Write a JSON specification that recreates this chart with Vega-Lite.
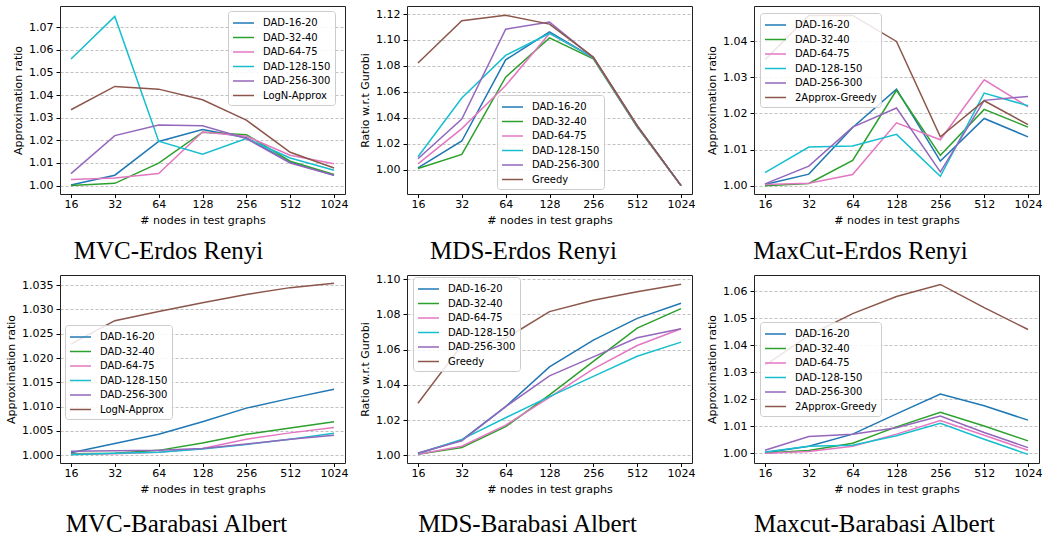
{
  "$schema": "https://vega.github.io/schema/vega-lite/v6.json",
  "background": "white",
  "padding": 5,
  "spacing": {"row": 8, "column": 10},
  "config": {
    "font": "DejaVu Sans",
    "view": {"stroke": "#222", "strokeWidth": 1},
    "axis": {"labelFont": "DejaVu Sans", "labelFontSize": 11, "labelColor": "#000", "titleFont": "DejaVu Sans", "titleFontSize": 11, "titleFontWeight": "normal", "titleColor": "#000", "tickColor": "#000", "domain": false, "tickSize": 4, "labelPadding": 3, "titlePadding": 5},
    "axisY": {"grid": true, "gridDash": [3, 2], "gridColor": "#b0b0b0", "gridWidth": 0.8},
    "axisX": {"grid": false, "tickSize": 3.5, "labelPadding": 1},
    "legend": {"orient": "none", "labelFont": "DejaVu Sans", "labelFontSize": 10, "labelColor": "#000", "symbolType": "M-1,0H2", "symbolSize": 196, "symbolStrokeWidth": 2, "fillColor": "rgba(255,255,255,0.85)", "strokeColor": "#cccccc", "cornerRadius": 3, "padding": 4, "rowPadding": 1.5, "labelOffset": 15},
    "title": {"orient": "bottom", "font": "Liberation Serif", "fontSize": 25, "fontWeight": "normal", "color": "#000", "anchor": "middle", "offset": 13},
    "line": {"strokeWidth": 1.5, "clip": true}
  },
  "data": {"values": [
    {"panel": "MVC-ER", "series": "DAD-16-20", "n": 16, "ratio": 1.0003},
    {"panel": "MVC-ER", "series": "DAD-16-20", "n": 32, "ratio": 1.0046},
    {"panel": "MVC-ER", "series": "DAD-16-20", "n": 64, "ratio": 1.0195},
    {"panel": "MVC-ER", "series": "DAD-16-20", "n": 128, "ratio": 1.0248},
    {"panel": "MVC-ER", "series": "DAD-16-20", "n": 256, "ratio": 1.0211},
    {"panel": "MVC-ER", "series": "DAD-16-20", "n": 512, "ratio": 1.0103},
    {"panel": "MVC-ER", "series": "DAD-16-20", "n": 1024, "ratio": 1.0046},
    {"panel": "MVC-ER", "series": "DAD-32-40", "n": 16, "ratio": 1.0000},
    {"panel": "MVC-ER", "series": "DAD-32-40", "n": 32, "ratio": 1.0010},
    {"panel": "MVC-ER", "series": "DAD-32-40", "n": 64, "ratio": 1.0099},
    {"panel": "MVC-ER", "series": "DAD-32-40", "n": 128, "ratio": 1.0236},
    {"panel": "MVC-ER", "series": "DAD-32-40", "n": 256, "ratio": 1.0225},
    {"panel": "MVC-ER", "series": "DAD-32-40", "n": 512, "ratio": 1.0108},
    {"panel": "MVC-ER", "series": "DAD-32-40", "n": 1024, "ratio": 1.0049},
    {"panel": "MVC-ER", "series": "DAD-64-75", "n": 16, "ratio": 1.0027},
    {"panel": "MVC-ER", "series": "DAD-64-75", "n": 32, "ratio": 1.0034},
    {"panel": "MVC-ER", "series": "DAD-64-75", "n": 64, "ratio": 1.0053},
    {"panel": "MVC-ER", "series": "DAD-64-75", "n": 128, "ratio": 1.0237},
    {"panel": "MVC-ER", "series": "DAD-64-75", "n": 256, "ratio": 1.0218},
    {"panel": "MVC-ER", "series": "DAD-64-75", "n": 512, "ratio": 1.0134},
    {"panel": "MVC-ER", "series": "DAD-64-75", "n": 1024, "ratio": 1.0097},
    {"panel": "MVC-ER", "series": "DAD-128-150", "n": 16, "ratio": 1.0559},
    {"panel": "MVC-ER", "series": "DAD-128-150", "n": 32, "ratio": 1.0747},
    {"panel": "MVC-ER", "series": "DAD-128-150", "n": 64, "ratio": 1.0196},
    {"panel": "MVC-ER", "series": "DAD-128-150", "n": 128, "ratio": 1.0139},
    {"panel": "MVC-ER", "series": "DAD-128-150", "n": 256, "ratio": 1.0208},
    {"panel": "MVC-ER", "series": "DAD-128-150", "n": 512, "ratio": 1.0122},
    {"panel": "MVC-ER", "series": "DAD-128-150", "n": 1024, "ratio": 1.0068},
    {"panel": "MVC-ER", "series": "DAD-256-300", "n": 16, "ratio": 1.0053},
    {"panel": "MVC-ER", "series": "DAD-256-300", "n": 32, "ratio": 1.0221},
    {"panel": "MVC-ER", "series": "DAD-256-300", "n": 64, "ratio": 1.0268},
    {"panel": "MVC-ER", "series": "DAD-256-300", "n": 128, "ratio": 1.0264},
    {"panel": "MVC-ER", "series": "DAD-256-300", "n": 256, "ratio": 1.0208},
    {"panel": "MVC-ER", "series": "DAD-256-300", "n": 512, "ratio": 1.0100},
    {"panel": "MVC-ER", "series": "DAD-256-300", "n": 1024, "ratio": 1.0046},
    {"panel": "MVC-ER", "series": "LogN-Approx", "n": 16, "ratio": 1.0335},
    {"panel": "MVC-ER", "series": "LogN-Approx", "n": 32, "ratio": 1.0438},
    {"panel": "MVC-ER", "series": "LogN-Approx", "n": 64, "ratio": 1.0426},
    {"panel": "MVC-ER", "series": "LogN-Approx", "n": 128, "ratio": 1.0379},
    {"panel": "MVC-ER", "series": "LogN-Approx", "n": 256, "ratio": 1.0289},
    {"panel": "MVC-ER", "series": "LogN-Approx", "n": 512, "ratio": 1.0147},
    {"panel": "MVC-ER", "series": "LogN-Approx", "n": 1024, "ratio": 1.0078},

    {"panel": "MDS-ER", "series": "DAD-16-20", "n": 16, "ratio": 1.0013},
    {"panel": "MDS-ER", "series": "DAD-16-20", "n": 32, "ratio": 1.0220},
    {"panel": "MDS-ER", "series": "DAD-16-20", "n": 64, "ratio": 1.0847},
    {"panel": "MDS-ER", "series": "DAD-16-20", "n": 128, "ratio": 1.1063},
    {"panel": "MDS-ER", "series": "DAD-16-20", "n": 256, "ratio": 1.0863},
    {"panel": "MDS-ER", "series": "DAD-16-20", "n": 512, "ratio": 1.0335},
    {"panel": "MDS-ER", "series": "DAD-16-20", "n": 1024, "ratio": 0.9876},
    {"panel": "MDS-ER", "series": "DAD-32-40", "n": 16, "ratio": 1.0008},
    {"panel": "MDS-ER", "series": "DAD-32-40", "n": 32, "ratio": 1.0117},
    {"panel": "MDS-ER", "series": "DAD-32-40", "n": 64, "ratio": 1.0713},
    {"panel": "MDS-ER", "series": "DAD-32-40", "n": 128, "ratio": 1.1016},
    {"panel": "MDS-ER", "series": "DAD-32-40", "n": 256, "ratio": 1.0855},
    {"panel": "MDS-ER", "series": "DAD-32-40", "n": 512, "ratio": 1.0328},
    {"panel": "MDS-ER", "series": "DAD-32-40", "n": 1024, "ratio": 0.9876},
    {"panel": "MDS-ER", "series": "DAD-64-75", "n": 16, "ratio": 1.0044},
    {"panel": "MDS-ER", "series": "DAD-64-75", "n": 32, "ratio": 1.0316},
    {"panel": "MDS-ER", "series": "DAD-64-75", "n": 64, "ratio": 1.0648},
    {"panel": "MDS-ER", "series": "DAD-64-75", "n": 128, "ratio": 1.1050},
    {"panel": "MDS-ER", "series": "DAD-64-75", "n": 256, "ratio": 1.0863},
    {"panel": "MDS-ER", "series": "DAD-64-75", "n": 512, "ratio": 1.0335},
    {"panel": "MDS-ER", "series": "DAD-64-75", "n": 1024, "ratio": 0.9876},
    {"panel": "MDS-ER", "series": "DAD-128-150", "n": 16, "ratio": 1.0098},
    {"panel": "MDS-ER", "series": "DAD-128-150", "n": 32, "ratio": 1.0552},
    {"panel": "MDS-ER", "series": "DAD-128-150", "n": 64, "ratio": 1.0881},
    {"panel": "MDS-ER", "series": "DAD-128-150", "n": 128, "ratio": 1.1050},
    {"panel": "MDS-ER", "series": "DAD-128-150", "n": 256, "ratio": 1.0863},
    {"panel": "MDS-ER", "series": "DAD-128-150", "n": 512, "ratio": 1.0335},
    {"panel": "MDS-ER", "series": "DAD-128-150", "n": 1024, "ratio": 0.9876},
    {"panel": "MDS-ER", "series": "DAD-256-300", "n": 16, "ratio": 1.0083},
    {"panel": "MDS-ER", "series": "DAD-256-300", "n": 32, "ratio": 1.0389},
    {"panel": "MDS-ER", "series": "DAD-256-300", "n": 64, "ratio": 1.1083},
    {"panel": "MDS-ER", "series": "DAD-256-300", "n": 128, "ratio": 1.1138},
    {"panel": "MDS-ER", "series": "DAD-256-300", "n": 256, "ratio": 1.0863},
    {"panel": "MDS-ER", "series": "DAD-256-300", "n": 512, "ratio": 1.0335},
    {"panel": "MDS-ER", "series": "DAD-256-300", "n": 1024, "ratio": 0.9876},
    {"panel": "MDS-ER", "series": "Greedy", "n": 16, "ratio": 1.0822},
    {"panel": "MDS-ER", "series": "Greedy", "n": 32, "ratio": 1.1148},
    {"panel": "MDS-ER", "series": "Greedy", "n": 64, "ratio": 1.1190},
    {"panel": "MDS-ER", "series": "Greedy", "n": 128, "ratio": 1.1122},
    {"panel": "MDS-ER", "series": "Greedy", "n": 256, "ratio": 1.0868},
    {"panel": "MDS-ER", "series": "Greedy", "n": 512, "ratio": 1.0340},
    {"panel": "MDS-ER", "series": "Greedy", "n": 1024, "ratio": 0.9876},

    {"panel": "MaxCut-ER", "series": "DAD-16-20", "n": 16, "ratio": 1.0003},
    {"panel": "MaxCut-ER", "series": "DAD-16-20", "n": 32, "ratio": 1.0032},
    {"panel": "MaxCut-ER", "series": "DAD-16-20", "n": 64, "ratio": 1.0161},
    {"panel": "MaxCut-ER", "series": "DAD-16-20", "n": 128, "ratio": 1.0267},
    {"panel": "MaxCut-ER", "series": "DAD-16-20", "n": 256, "ratio": 1.0068},
    {"panel": "MaxCut-ER", "series": "DAD-16-20", "n": 512, "ratio": 1.0186},
    {"panel": "MaxCut-ER", "series": "DAD-16-20", "n": 1024, "ratio": 1.0135},
    {"panel": "MaxCut-ER", "series": "DAD-32-40", "n": 16, "ratio": 1.0000},
    {"panel": "MaxCut-ER", "series": "DAD-32-40", "n": 32, "ratio": 1.0006},
    {"panel": "MaxCut-ER", "series": "DAD-32-40", "n": 64, "ratio": 1.0070},
    {"panel": "MaxCut-ER", "series": "DAD-32-40", "n": 128, "ratio": 1.0264},
    {"panel": "MaxCut-ER", "series": "DAD-32-40", "n": 256, "ratio": 1.0084},
    {"panel": "MaxCut-ER", "series": "DAD-32-40", "n": 512, "ratio": 1.0211},
    {"panel": "MaxCut-ER", "series": "DAD-32-40", "n": 1024, "ratio": 1.0162},
    {"panel": "MaxCut-ER", "series": "DAD-64-75", "n": 16, "ratio": 1.0003},
    {"panel": "MaxCut-ER", "series": "DAD-64-75", "n": 32, "ratio": 1.0007},
    {"panel": "MaxCut-ER", "series": "DAD-64-75", "n": 64, "ratio": 1.0031},
    {"panel": "MaxCut-ER", "series": "DAD-64-75", "n": 128, "ratio": 1.0174},
    {"panel": "MaxCut-ER", "series": "DAD-64-75", "n": 256, "ratio": 1.0127},
    {"panel": "MaxCut-ER", "series": "DAD-64-75", "n": 512, "ratio": 1.0293},
    {"panel": "MaxCut-ER", "series": "DAD-64-75", "n": 1024, "ratio": 1.0218},
    {"panel": "MaxCut-ER", "series": "DAD-128-150", "n": 16, "ratio": 1.0036},
    {"panel": "MaxCut-ER", "series": "DAD-128-150", "n": 32, "ratio": 1.0107},
    {"panel": "MaxCut-ER", "series": "DAD-128-150", "n": 64, "ratio": 1.0110},
    {"panel": "MaxCut-ER", "series": "DAD-128-150", "n": 128, "ratio": 1.0142},
    {"panel": "MaxCut-ER", "series": "DAD-128-150", "n": 256, "ratio": 1.0026},
    {"panel": "MaxCut-ER", "series": "DAD-128-150", "n": 512, "ratio": 1.0256},
    {"panel": "MaxCut-ER", "series": "DAD-128-150", "n": 1024, "ratio": 1.0221},
    {"panel": "MaxCut-ER", "series": "DAD-256-300", "n": 16, "ratio": 1.0005},
    {"panel": "MaxCut-ER", "series": "DAD-256-300", "n": 32, "ratio": 1.0054},
    {"panel": "MaxCut-ER", "series": "DAD-256-300", "n": 64, "ratio": 1.0162},
    {"panel": "MaxCut-ER", "series": "DAD-256-300", "n": 128, "ratio": 1.0215},
    {"panel": "MaxCut-ER", "series": "DAD-256-300", "n": 256, "ratio": 1.0038},
    {"panel": "MaxCut-ER", "series": "DAD-256-300", "n": 512, "ratio": 1.0236},
    {"panel": "MaxCut-ER", "series": "DAD-256-300", "n": 1024, "ratio": 1.0247},
    {"panel": "MaxCut-ER", "series": "2Approx-Greedy", "n": 16, "ratio": 1.0348},
    {"panel": "MaxCut-ER", "series": "2Approx-Greedy", "n": 32, "ratio": 1.0471},
    {"panel": "MaxCut-ER", "series": "2Approx-Greedy", "n": 64, "ratio": 1.0471},
    {"panel": "MaxCut-ER", "series": "2Approx-Greedy", "n": 128, "ratio": 1.0399},
    {"panel": "MaxCut-ER", "series": "2Approx-Greedy", "n": 256, "ratio": 1.0135},
    {"panel": "MaxCut-ER", "series": "2Approx-Greedy", "n": 512, "ratio": 1.0235},
    {"panel": "MaxCut-ER", "series": "2Approx-Greedy", "n": 1024, "ratio": 1.0169},

    {"panel": "MVC-BA", "series": "DAD-16-20", "n": 16, "ratio": 1.0005},
    {"panel": "MVC-BA", "series": "DAD-16-20", "n": 32, "ratio": 1.0024},
    {"panel": "MVC-BA", "series": "DAD-16-20", "n": 64, "ratio": 1.0043},
    {"panel": "MVC-BA", "series": "DAD-16-20", "n": 128, "ratio": 1.0069},
    {"panel": "MVC-BA", "series": "DAD-16-20", "n": 256, "ratio": 1.0097},
    {"panel": "MVC-BA", "series": "DAD-16-20", "n": 512, "ratio": 1.0117},
    {"panel": "MVC-BA", "series": "DAD-16-20", "n": 1024, "ratio": 1.0136},
    {"panel": "MVC-BA", "series": "DAD-32-40", "n": 16, "ratio": 1.0003},
    {"panel": "MVC-BA", "series": "DAD-32-40", "n": 32, "ratio": 1.0004},
    {"panel": "MVC-BA", "series": "DAD-32-40", "n": 64, "ratio": 1.0010},
    {"panel": "MVC-BA", "series": "DAD-32-40", "n": 128, "ratio": 1.0025},
    {"panel": "MVC-BA", "series": "DAD-32-40", "n": 256, "ratio": 1.0043},
    {"panel": "MVC-BA", "series": "DAD-32-40", "n": 512, "ratio": 1.0056},
    {"panel": "MVC-BA", "series": "DAD-32-40", "n": 1024, "ratio": 1.0069},
    {"panel": "MVC-BA", "series": "DAD-64-75", "n": 16, "ratio": 1.0002},
    {"panel": "MVC-BA", "series": "DAD-64-75", "n": 32, "ratio": 1.0003},
    {"panel": "MVC-BA", "series": "DAD-64-75", "n": 64, "ratio": 1.0006},
    {"panel": "MVC-BA", "series": "DAD-64-75", "n": 128, "ratio": 1.0014},
    {"panel": "MVC-BA", "series": "DAD-64-75", "n": 256, "ratio": 1.0033},
    {"panel": "MVC-BA", "series": "DAD-64-75", "n": 512, "ratio": 1.0046},
    {"panel": "MVC-BA", "series": "DAD-64-75", "n": 1024, "ratio": 1.0057},
    {"panel": "MVC-BA", "series": "DAD-128-150", "n": 16, "ratio": 1.0001},
    {"panel": "MVC-BA", "series": "DAD-128-150", "n": 32, "ratio": 1.0004},
    {"panel": "MVC-BA", "series": "DAD-128-150", "n": 64, "ratio": 1.0006},
    {"panel": "MVC-BA", "series": "DAD-128-150", "n": 128, "ratio": 1.0013},
    {"panel": "MVC-BA", "series": "DAD-128-150", "n": 256, "ratio": 1.0022},
    {"panel": "MVC-BA", "series": "DAD-128-150", "n": 512, "ratio": 1.0033},
    {"panel": "MVC-BA", "series": "DAD-128-150", "n": 1024, "ratio": 1.0045},
    {"panel": "MVC-BA", "series": "DAD-256-300", "n": 16, "ratio": 1.0008},
    {"panel": "MVC-BA", "series": "DAD-256-300", "n": 32, "ratio": 1.0009},
    {"panel": "MVC-BA", "series": "DAD-256-300", "n": 64, "ratio": 1.0010},
    {"panel": "MVC-BA", "series": "DAD-256-300", "n": 128, "ratio": 1.0014},
    {"panel": "MVC-BA", "series": "DAD-256-300", "n": 256, "ratio": 1.0023},
    {"panel": "MVC-BA", "series": "DAD-256-300", "n": 512, "ratio": 1.0033},
    {"panel": "MVC-BA", "series": "DAD-256-300", "n": 1024, "ratio": 1.0041},
    {"panel": "MVC-BA", "series": "LogN-Approx", "n": 16, "ratio": 1.0229},
    {"panel": "MVC-BA", "series": "LogN-Approx", "n": 32, "ratio": 1.0277},
    {"panel": "MVC-BA", "series": "LogN-Approx", "n": 64, "ratio": 1.0296},
    {"panel": "MVC-BA", "series": "LogN-Approx", "n": 128, "ratio": 1.0314},
    {"panel": "MVC-BA", "series": "LogN-Approx", "n": 256, "ratio": 1.0331},
    {"panel": "MVC-BA", "series": "LogN-Approx", "n": 512, "ratio": 1.0345},
    {"panel": "MVC-BA", "series": "LogN-Approx", "n": 1024, "ratio": 1.0354},

    {"panel": "MDS-BA", "series": "DAD-16-20", "n": 16, "ratio": 1.0010},
    {"panel": "MDS-BA", "series": "DAD-16-20", "n": 32, "ratio": 1.0086},
    {"panel": "MDS-BA", "series": "DAD-16-20", "n": 64, "ratio": 1.0276},
    {"panel": "MDS-BA", "series": "DAD-16-20", "n": 128, "ratio": 1.0501},
    {"panel": "MDS-BA", "series": "DAD-16-20", "n": 256, "ratio": 1.0653},
    {"panel": "MDS-BA", "series": "DAD-16-20", "n": 512, "ratio": 1.0777},
    {"panel": "MDS-BA", "series": "DAD-16-20", "n": 1024, "ratio": 1.0863},
    {"panel": "MDS-BA", "series": "DAD-32-40", "n": 16, "ratio": 1.0006},
    {"panel": "MDS-BA", "series": "DAD-32-40", "n": 32, "ratio": 1.0044},
    {"panel": "MDS-BA", "series": "DAD-32-40", "n": 64, "ratio": 1.0162},
    {"panel": "MDS-BA", "series": "DAD-32-40", "n": 128, "ratio": 1.0343},
    {"panel": "MDS-BA", "series": "DAD-32-40", "n": 256, "ratio": 1.0533},
    {"panel": "MDS-BA", "series": "DAD-32-40", "n": 512, "ratio": 1.0722},
    {"panel": "MDS-BA", "series": "DAD-32-40", "n": 1024, "ratio": 1.0832},
    {"panel": "MDS-BA", "series": "DAD-64-75", "n": 16, "ratio": 1.0006},
    {"panel": "MDS-BA", "series": "DAD-64-75", "n": 32, "ratio": 1.0051},
    {"panel": "MDS-BA", "series": "DAD-64-75", "n": 64, "ratio": 1.0171},
    {"panel": "MDS-BA", "series": "DAD-64-75", "n": 128, "ratio": 1.0328},
    {"panel": "MDS-BA", "series": "DAD-64-75", "n": 256, "ratio": 1.0490},
    {"panel": "MDS-BA", "series": "DAD-64-75", "n": 512, "ratio": 1.0623},
    {"panel": "MDS-BA", "series": "DAD-64-75", "n": 1024, "ratio": 1.0718},
    {"panel": "MDS-BA", "series": "DAD-128-150", "n": 16, "ratio": 1.0010},
    {"panel": "MDS-BA", "series": "DAD-128-150", "n": 32, "ratio": 1.0090},
    {"panel": "MDS-BA", "series": "DAD-128-150", "n": 64, "ratio": 1.0213},
    {"panel": "MDS-BA", "series": "DAD-128-150", "n": 128, "ratio": 1.0333},
    {"panel": "MDS-BA", "series": "DAD-128-150", "n": 256, "ratio": 1.0448},
    {"panel": "MDS-BA", "series": "DAD-128-150", "n": 512, "ratio": 1.0562},
    {"panel": "MDS-BA", "series": "DAD-128-150", "n": 1024, "ratio": 1.0642},
    {"panel": "MDS-BA", "series": "DAD-256-300", "n": 16, "ratio": 1.0013},
    {"panel": "MDS-BA", "series": "DAD-256-300", "n": 32, "ratio": 1.0082},
    {"panel": "MDS-BA", "series": "DAD-256-300", "n": 64, "ratio": 1.0276},
    {"panel": "MDS-BA", "series": "DAD-256-300", "n": 128, "ratio": 1.0451},
    {"panel": "MDS-BA", "series": "DAD-256-300", "n": 256, "ratio": 1.0558},
    {"panel": "MDS-BA", "series": "DAD-256-300", "n": 512, "ratio": 1.0667},
    {"panel": "MDS-BA", "series": "DAD-256-300", "n": 1024, "ratio": 1.0718},
    {"panel": "MDS-BA", "series": "Greedy", "n": 16, "ratio": 1.0295},
    {"panel": "MDS-BA", "series": "Greedy", "n": 32, "ratio": 1.0625},
    {"panel": "MDS-BA", "series": "Greedy", "n": 64, "ratio": 1.0663},
    {"panel": "MDS-BA", "series": "Greedy", "n": 128, "ratio": 1.0815},
    {"panel": "MDS-BA", "series": "Greedy", "n": 256, "ratio": 1.0880},
    {"panel": "MDS-BA", "series": "Greedy", "n": 512, "ratio": 1.0928},
    {"panel": "MDS-BA", "series": "Greedy", "n": 1024, "ratio": 1.0971},

    {"panel": "MaxCut-BA", "series": "DAD-16-20", "n": 16, "ratio": 1.0002},
    {"panel": "MaxCut-BA", "series": "DAD-16-20", "n": 32, "ratio": 1.0026},
    {"panel": "MaxCut-BA", "series": "DAD-16-20", "n": 64, "ratio": 1.0071},
    {"panel": "MaxCut-BA", "series": "DAD-16-20", "n": 128, "ratio": 1.0146},
    {"panel": "MaxCut-BA", "series": "DAD-16-20", "n": 256, "ratio": 1.0220},
    {"panel": "MaxCut-BA", "series": "DAD-16-20", "n": 512, "ratio": 1.0176},
    {"panel": "MaxCut-BA", "series": "DAD-16-20", "n": 1024, "ratio": 1.0123},
    {"panel": "MaxCut-BA", "series": "DAD-32-40", "n": 16, "ratio": 1.0001},
    {"panel": "MaxCut-BA", "series": "DAD-32-40", "n": 32, "ratio": 1.0010},
    {"panel": "MaxCut-BA", "series": "DAD-32-40", "n": 64, "ratio": 1.0037},
    {"panel": "MaxCut-BA", "series": "DAD-32-40", "n": 128, "ratio": 1.0098},
    {"panel": "MaxCut-BA", "series": "DAD-32-40", "n": 256, "ratio": 1.0152},
    {"panel": "MaxCut-BA", "series": "DAD-32-40", "n": 512, "ratio": 1.0101},
    {"panel": "MaxCut-BA", "series": "DAD-32-40", "n": 1024, "ratio": 1.0046},
    {"panel": "MaxCut-BA", "series": "DAD-64-75", "n": 16, "ratio": 1.0000},
    {"panel": "MaxCut-BA", "series": "DAD-64-75", "n": 32, "ratio": 1.0007},
    {"panel": "MaxCut-BA", "series": "DAD-64-75", "n": 64, "ratio": 1.0026},
    {"panel": "MaxCut-BA", "series": "DAD-64-75", "n": 128, "ratio": 1.0071},
    {"panel": "MaxCut-BA", "series": "DAD-64-75", "n": 256, "ratio": 1.0121},
    {"panel": "MaxCut-BA", "series": "DAD-64-75", "n": 512, "ratio": 1.0067},
    {"panel": "MaxCut-BA", "series": "DAD-64-75", "n": 1024, "ratio": 1.0011},
    {"panel": "MaxCut-BA", "series": "DAD-128-150", "n": 16, "ratio": 1.0005},
    {"panel": "MaxCut-BA", "series": "DAD-128-150", "n": 32, "ratio": 1.0026},
    {"panel": "MaxCut-BA", "series": "DAD-128-150", "n": 64, "ratio": 1.0030},
    {"panel": "MaxCut-BA", "series": "DAD-128-150", "n": 128, "ratio": 1.0065},
    {"panel": "MaxCut-BA", "series": "DAD-128-150", "n": 256, "ratio": 1.0111},
    {"panel": "MaxCut-BA", "series": "DAD-128-150", "n": 512, "ratio": 1.0052},
    {"panel": "MaxCut-BA", "series": "DAD-128-150", "n": 1024, "ratio": 0.9996},
    {"panel": "MaxCut-BA", "series": "DAD-256-300", "n": 16, "ratio": 1.0011},
    {"panel": "MaxCut-BA", "series": "DAD-256-300", "n": 32, "ratio": 1.0062},
    {"panel": "MaxCut-BA", "series": "DAD-256-300", "n": 64, "ratio": 1.0071},
    {"panel": "MaxCut-BA", "series": "DAD-256-300", "n": 128, "ratio": 1.0095},
    {"panel": "MaxCut-BA", "series": "DAD-256-300", "n": 256, "ratio": 1.0138},
    {"panel": "MaxCut-BA", "series": "DAD-256-300", "n": 512, "ratio": 1.0077},
    {"panel": "MaxCut-BA", "series": "DAD-256-300", "n": 1024, "ratio": 1.0021},
    {"panel": "MaxCut-BA", "series": "2Approx-Greedy", "n": 16, "ratio": 1.0326},
    {"panel": "MaxCut-BA", "series": "2Approx-Greedy", "n": 32, "ratio": 1.0437},
    {"panel": "MaxCut-BA", "series": "2Approx-Greedy", "n": 64, "ratio": 1.0518},
    {"panel": "MaxCut-BA", "series": "2Approx-Greedy", "n": 128, "ratio": 1.0581},
    {"panel": "MaxCut-BA", "series": "2Approx-Greedy", "n": 256, "ratio": 1.0626},
    {"panel": "MaxCut-BA", "series": "2Approx-Greedy", "n": 512, "ratio": 1.0540},
    {"panel": "MaxCut-BA", "series": "2Approx-Greedy", "n": 1024, "ratio": 1.0459}
  ]},
  "columns": 3,
  "resolve": {"scale": {"color": "independent", "x": "independent", "y": "independent"}, "legend": {"color": "independent"}},
  "concat": [
    {
      "width": 285, "height": 188,
      "title": {"text": "MVC-Erdos Renyi", "dx": -34},
      "transform": [{"filter": "datum.panel === 'MVC-ER'"}],
      "mark": "line",
      "encoding": {
        "x": {"field": "n", "type": "quantitative", "scale": {"type": "log", "base": 2, "domain": [13.454, 1217.7], "nice": false}, "axis": {"values": [16, 32, 64, 128, 256, 512, 1024], "format": "d", "title": "# nodes in test graphs"}},
        "y": {"field": "ratio", "type": "quantitative", "scale": {"domain": [0.9963, 1.0793], "nice": false, "zero": false}, "axis": {"values": [1.0, 1.01, 1.02, 1.03, 1.04, 1.05, 1.06, 1.07], "format": ".2f", "title": "Approximation ratio"}},
        "color": {"field": "series", "type": "nominal", "scale": {"domain": ["DAD-16-20", "DAD-32-40", "DAD-64-75", "DAD-128-150", "DAD-256-300", "LogN-Approx"], "range": ["#1f77b4", "#2ca02c", "#e377c2", "#17becf", "#9467bd", "#8c564b"]}, "legend": {"title": null, "legendX": 168, "legendY": 5}}
      }
    },
    {
      "width": 285, "height": 188,
      "title": {"text": "MDS-Erdos Renyi", "dx": -26},
      "transform": [{"filter": "datum.panel === 'MDS-ER'"}],
      "mark": "line",
      "encoding": {
        "x": {"field": "n", "type": "quantitative", "scale": {"type": "log", "base": 2, "domain": [13.454, 1217.7], "nice": false}, "axis": {"values": [16, 32, 64, 128, 256, 512, 1024], "format": "d", "title": "# nodes in test graphs"}},
        "y": {"field": "ratio", "type": "quantitative", "scale": {"domain": [0.9811, 1.1262], "nice": false, "zero": false}, "axis": {"values": [1.0, 1.02, 1.04, 1.06, 1.08, 1.1, 1.12], "format": ".2f", "title": "Ratio w.r.t Gurobi"}},
        "color": {"field": "series", "type": "nominal", "scale": {"domain": ["DAD-16-20", "DAD-32-40", "DAD-64-75", "DAD-128-150", "DAD-256-300", "Greedy"], "range": ["#1f77b4", "#2ca02c", "#e377c2", "#17becf", "#9467bd", "#8c564b"]}, "legend": {"title": null, "legendX": 90, "legendY": 89}}
      }
    },
    {
      "width": 285, "height": 188,
      "title": {"text": "MaxCut-Erdos Renyi", "dx": -36},
      "transform": [{"filter": "datum.panel === 'MaxCut-ER'"}],
      "mark": "line",
      "encoding": {
        "x": {"field": "n", "type": "quantitative", "scale": {"type": "log", "base": 2, "domain": [13.454, 1217.7], "nice": false}, "axis": {"values": [16, 32, 64, 128, 256, 512, 1024], "format": "d", "title": "# nodes in test graphs"}},
        "y": {"field": "ratio", "type": "quantitative", "scale": {"domain": [0.9977, 1.0497], "nice": false, "zero": false}, "axis": {"values": [1.0, 1.01, 1.02, 1.03, 1.04], "format": ".2f", "title": "Approximation ratio"}},
        "color": {"field": "series", "type": "nominal", "scale": {"domain": ["DAD-16-20", "DAD-32-40", "DAD-64-75", "DAD-128-150", "DAD-256-300", "2Approx-Greedy"], "range": ["#1f77b4", "#2ca02c", "#e377c2", "#17becf", "#9467bd", "#8c564b"]}, "legend": {"title": null, "legendX": 6, "legendY": 7}}
      }
    },
    {
      "width": 285, "height": 188,
      "title": {"text": "MVC-Barabasi Albert", "dx": -26, "offset": 17},
      "transform": [{"filter": "datum.panel === 'MVC-BA'"}],
      "mark": "line",
      "encoding": {
        "x": {"field": "n", "type": "quantitative", "scale": {"type": "log", "base": 2, "domain": [13.454, 1217.7], "nice": false}, "axis": {"values": [16, 32, 64, 128, 256, 512, 1024], "format": "d", "title": "# nodes in test graphs"}},
        "y": {"field": "ratio", "type": "quantitative", "scale": {"domain": [0.9984, 1.0371], "nice": false, "zero": false}, "axis": {"values": [1.0, 1.005, 1.01, 1.015, 1.02, 1.025, 1.03, 1.035], "format": ".3f", "title": "Approximation ratio"}},
        "color": {"field": "series", "type": "nominal", "scale": {"domain": ["DAD-16-20", "DAD-32-40", "DAD-64-75", "DAD-128-150", "DAD-256-300", "LogN-Approx"], "range": ["#1f77b4", "#2ca02c", "#e377c2", "#17becf", "#9467bd", "#8c564b"]}, "legend": {"title": null, "legendX": 5, "legendY": 50}}
      }
    },
    {
      "width": 285, "height": 188,
      "title": {"text": "MDS-Barabasi Albert", "dx": -22, "offset": 17},
      "transform": [{"filter": "datum.panel === 'MDS-BA'"}],
      "mark": "line",
      "encoding": {
        "x": {"field": "n", "type": "quantitative", "scale": {"type": "log", "base": 2, "domain": [13.454, 1217.7], "nice": false}, "axis": {"values": [16, 32, 64, 128, 256, 512, 1024], "format": "d", "title": "# nodes in test graphs"}},
        "y": {"field": "ratio", "type": "quantitative", "scale": {"domain": [0.9956, 1.1023], "nice": false, "zero": false}, "axis": {"values": [1.0, 1.02, 1.04, 1.06, 1.08, 1.1], "format": ".2f", "title": "Ratio w.r.t Gurobi"}},
        "color": {"field": "series", "type": "nominal", "scale": {"domain": ["DAD-16-20", "DAD-32-40", "DAD-64-75", "DAD-128-150", "DAD-256-300", "Greedy"], "range": ["#1f77b4", "#2ca02c", "#e377c2", "#17becf", "#9467bd", "#8c564b"]}, "legend": {"title": null, "legendX": 6, "legendY": 2}}
      }
    },
    {
      "width": 285, "height": 188,
      "title": {"text": "Maxcut-Barabasi Albert", "dx": -22, "offset": 17},
      "transform": [{"filter": "datum.panel === 'MaxCut-BA'"}],
      "mark": "line",
      "encoding": {
        "x": {"field": "n", "type": "quantitative", "scale": {"type": "log", "base": 2, "domain": [13.454, 1217.7], "nice": false}, "axis": {"values": [16, 32, 64, 128, 256, 512, 1024], "format": "d", "title": "# nodes in test graphs"}},
        "y": {"field": "ratio", "type": "quantitative", "scale": {"domain": [0.9964, 1.0661], "nice": false, "zero": false}, "axis": {"values": [1.0, 1.01, 1.02, 1.03, 1.04, 1.05, 1.06], "format": ".2f", "title": "Approximation ratio"}},
        "color": {"field": "series", "type": "nominal", "scale": {"domain": ["DAD-16-20", "DAD-32-40", "DAD-64-75", "DAD-128-150", "DAD-256-300", "2Approx-Greedy"], "range": ["#1f77b4", "#2ca02c", "#e377c2", "#17becf", "#9467bd", "#8c564b"]}, "legend": {"title": null, "legendX": 6, "legendY": 47}}
      }
    }
  ]
}
